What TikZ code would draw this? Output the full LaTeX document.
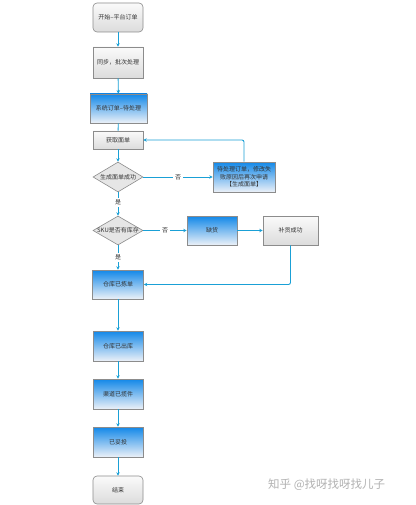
\documentclass[tikz,border=0pt]{standalone}
\usepackage{fontspec}
\setmainfont{Noto Sans CJK SC}
\usetikzlibrary{shapes.geometric,arrows.meta}
\definecolor{linec}{RGB}{26,160,214}
\definecolor{bluetop}{RGB}{18,136,232}
\definecolor{bluebot}{RGB}{236,241,248}
\definecolor{graytop}{RGB}{250,250,250}
\definecolor{graybot}{RGB}{220,220,220}
\definecolor{edge}{RGB}{140,140,140}
\definecolor{txt}{RGB}{50,50,50}
\tikzset{
  base/.style={draw=edge, line width=0.6pt, inner sep=0pt, text=txt,
    font=\fontsize{6}{7.5}\selectfont, align=center},
  graybox/.style={base, rectangle, top color=graytop, bottom color=graybot},
  bluebox/.style={base, rectangle, top color=bluetop, bottom color=bluebot},
  roundbox/.style={graybox, rounded corners=4pt},
  dia/.style={base, diamond, fill=graybot!70!white},
  conn/.style={draw=linec, line width=0.9pt, -{Stealth[length=3.5pt,width=3.5pt]}},
  plain/.style={draw=linec, line width=0.9pt},
  lab/.style={fill=white, inner sep=2pt, text=txt, font=\fontsize{6}{7}\selectfont},
}
\begin{document}
\begin{tikzpicture}[x=1pt,y=-1pt]
\useasboundingbox[fill=white] (0,0) rectangle (415,505);
\node[roundbox, minimum width=50pt, minimum height=29pt] (start) at (118,17.5) {开始–平台订单};
\node[graybox, minimum width=50pt, minimum height=31pt] (sync) at (118,62.5) {同步，批次处理};
\node[bluebox, minimum width=57pt, minimum height=29pt] (sys) at (118.5,108.5) {系统订单–待处理};
\node[graybox, minimum width=50pt, minimum height=18pt] (get) at (118,140) {获取面单};
\node[dia, minimum width=50pt, minimum height=30pt] (d1) at (118,177) {\makebox[0pt]{生成面单成功}};
\node[bluebox, minimum width=62pt, minimum height=30pt] (wait) at (244,177) {待处理订单，修改失\\败原因后再次申请\\【生成面单】};
\node[dia, minimum width=50pt, minimum height=29pt] (d2) at (118,230.5) {\makebox[0pt]{SKU是否有库存}};
\node[bluebox, minimum width=50pt, minimum height=29pt] (lack) at (212,230.5) {缺货};
\node[graybox, minimum width=55pt, minimum height=29pt] (rep) at (290.5,230.5) {补货成功};
\node[bluebox, minimum width=51pt, minimum height=29pt] (wh1) at (118,284.5) {仓库已拣单};
\node[bluebox, minimum width=50pt, minimum height=30pt] (wh2) at (118,346) {仓库已出库};
\node[bluebox, minimum width=50pt, minimum height=30pt] (ch) at (118,394) {渠道已揽件};
\node[bluebox, minimum width=50pt, minimum height=30pt] (dl) at (118,442) {已妥投};
\node[roundbox, minimum width=50pt, minimum height=28pt] (end) at (118,490) {结束};

\draw[conn] (start) -- (sync);
\draw[conn] (sync) -- (sys);
\draw[plain] (sys) -- (get);
\draw[conn] (get) -- (d1);
\draw[conn] (d1) -- node[lab, pos=0.5] (no1) {否} (wait);
\draw[conn, rounded corners=2pt] (wait.north) |- (get.east);
\draw[conn] (d1) -- node[lab, pos=0.45] (yes1) {是} (d2);
\draw[conn] (d2) -- node[lab, pos=0.5] (no2) {否} (lack);
\draw[conn] (lack) -- (rep);
\draw[conn] (d2) -- node[lab, pos=0.5] (yes2) {是} (wh1);
\draw[conn, rounded corners=2pt] (rep.south) |- (wh1.east);
\draw[conn] (wh1) -- (wh2);
\draw[conn] (wh2) -- (ch);
\draw[conn] (ch) -- (dl);
\draw[conn] (dl) -- (end);

\node[text=gray!60, font=\fontsize{11.5}{13}\selectfont, anchor=west, inner sep=0pt] (wm) at (268,485) {知乎 @找呀找呀找儿子};
\end{tikzpicture}
\end{document}
